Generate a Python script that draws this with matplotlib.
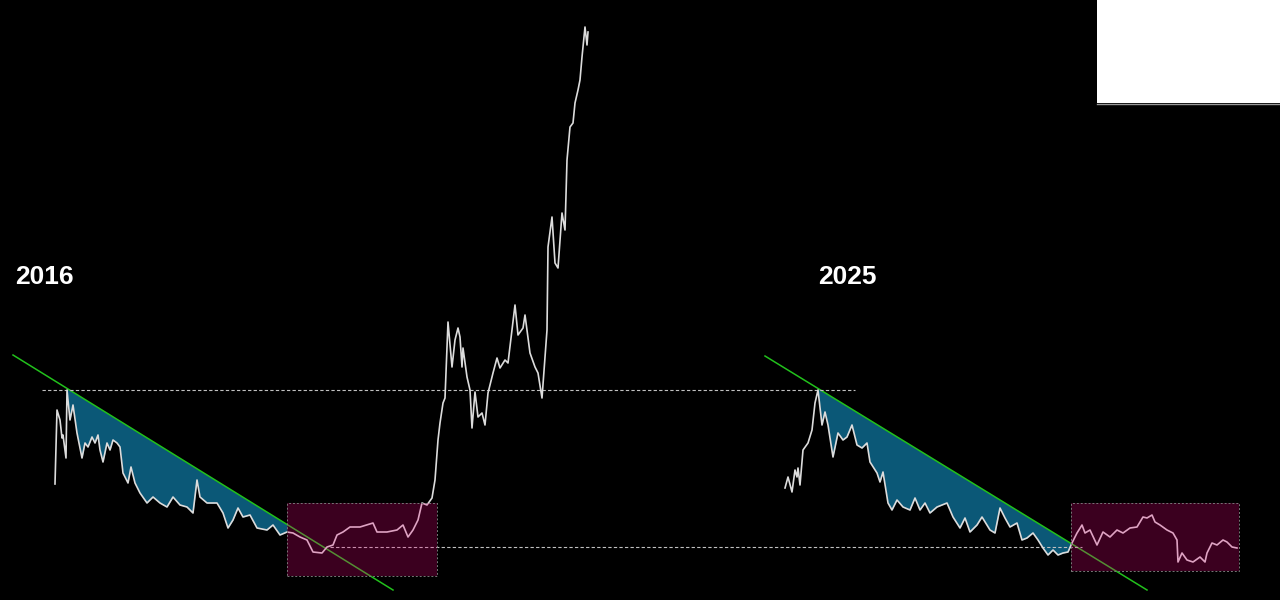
import matplotlib.pyplot as plt
import numpy as np
from matplotlib.patches import Rectangle

# chu ky 2016 (x, muc gia)
x16 = [55, 57, 60, 62, 63, 66, 67, 70, 73, 77, 82, 85, 88, 92, 95, 98, 100, 103, 107, 110,
       113, 117, 120, 123, 128, 131, 135, 140, 147, 153, 160, 167, 173, 180, 187, 193, 197,
       200, 207, 217, 223, 228, 233, 238, 243, 250, 257, 267, 273, 280, 287, 293, 300, 307,
       313, 322, 327, 333, 337, 343, 350, 360, 373, 377, 387, 397, 403, 408, 413, 418, 422,
       427, 432, 435, 438, 440, 443, 445, 448, 452, 455, 458, 460, 462, 463, 467, 470, 472,
       475, 478, 482, 485, 488, 493, 497, 500, 505, 508, 515, 518, 523, 525, 530, 535, 538,
       542, 547, 548, 552, 555, 558, 562, 565, 567, 570, 573, 575, 578, 580, 582, 585, 587, 588]
p16 = [484, 410, 420, 438, 435, 458, 390, 420, 405, 433, 458, 443, 447, 437, 443, 435, 450,
       462, 443, 450, 440, 443, 447, 473, 483, 467, 483, 493, 503, 497, 503, 507, 497, 505,
       507, 513, 480, 497, 503, 503, 513, 528, 520, 508, 517, 515, 528, 530, 525, 535, 532,
       533, 537, 540, 552, 553, 547, 545, 535, 532, 527, 527, 523, 532, 532, 530, 525, 537,
       530, 520, 503, 505, 498, 480, 440, 423, 403, 398, 322, 367, 340, 328, 337, 367, 348,
       377, 390, 428, 392, 417, 413, 425, 393, 373, 358, 368, 360, 363, 305, 335, 328, 315,
       353, 367, 373, 398, 330, 247, 217, 263, 268, 213, 230, 160, 127, 123, 103, 90, 80, 57,
       27, 45, 32]

# chu ky 2025
x25 = [785, 788, 792, 795, 797, 798, 800, 803, 808, 812, 815, 818, 822, 825, 828, 833, 838,
       843, 847, 852, 857, 862, 867, 870, 877, 880, 883, 888, 892, 897, 903, 910, 915, 920,
       925, 930, 937, 947, 953, 960, 965, 970, 977, 982, 990, 995, 1000, 1005, 1010, 1017,
       1022, 1027, 1033, 1038, 1043, 1048, 1053, 1058, 1063, 1068, 1072, 1077, 1082, 1085,
       1090, 1097, 1103, 1110, 1117, 1123, 1130, 1137, 1143, 1147, 1152, 1155, 1160, 1167,
       1173, 1177, 1178, 1182, 1187, 1193, 1200, 1205, 1207, 1212, 1217, 1223, 1227, 1232, 1237]
p25 = [488, 477, 492, 470, 477, 468, 485, 450, 443, 430, 403, 390, 425, 412, 425, 457, 433,
       440, 437, 425, 445, 448, 443, 462, 473, 482, 472, 503, 510, 500, 507, 510, 498, 510,
       503, 513, 507, 503, 517, 528, 518, 532, 525, 517, 530, 533, 508, 518, 527, 523, 540,
       538, 533, 540, 548, 555, 550, 555, 553, 552, 543, 533, 525, 533, 530, 545, 532, 537,
       530, 533, 528, 527, 517, 518, 515, 522, 525, 530, 533, 540, 562, 553, 560, 562, 557,
       562, 553, 543, 545, 540, 542, 547, 548]

# duong xu huong giam (2 diem dau/cuoi)
trend16 = [(13, 355), (393, 590)]
trend25 = [(765, 356), (1147, 590)]
# vung tich luy
box16 = (287, 437, 503, 576)
box25 = (1071, 1239, 503, 571)
# duong ngang
top_level = 390
bottom_level = 547

H = 600
fig = plt.figure(figsize=(12.8, 6), dpi=100, facecolor='black')
ax = fig.add_axes([0, 0, 1, 1])
ax.set_facecolor('black')
ax.set_xlim(0, 1280)
ax.set_ylim(0, H)
ax.axis('off')

def val(a):
    return H - np.asarray(a, dtype=float)

def trend_at(tr, x):
    (x0, y0), (x1, y1) = tr
    return y0 + (np.asarray(x) - x0) * (y1 - y0) / (x1 - x0)

for xs, ps, tr, box in [(x16, p16, trend16, box16), (x25, p25, trend25, box25)]:
    xs = np.array(xs, dtype=float)
    ps = np.array(ps, dtype=float)
    ipk = int(np.argmin(ps))
    if tr is trend16:
        ipk = 6
    xf = np.linspace(xs[ipk], box[0], 400)
    pf = np.interp(xf, xs, ps)
    tf = trend_at(tr, xf)
    ax.fill_between(xf, val(tf), val(pf), where=pf >= tf, interpolate=True,
                    color='#0b5877', lw=0, zorder=1)
    ax.plot([tr[0][0], tr[1][0]], val([tr[0][1], tr[1][1]]), color='#22c11c', lw=1.1, zorder=2)
    ax.plot(xs, val(ps), color='#dcdcdc', lw=1.2, zorder=3)
    ax.add_patch(Rectangle((box[0], val(box[3])), box[1] - box[0], box[3] - box[2],
                           facecolor='#e6007a', alpha=0.26, edgecolor='none', zorder=4))
    ax.add_patch(Rectangle((box[0], val(box[3])), box[1] - box[0], box[3] - box[2],
                           facecolor='none', edgecolor='#777777', lw=0.7, ls=(0, (2, 2)), zorder=5))

ax.plot([42, 855], [val(top_level)] * 2, color='#c0c0c0', lw=0.8, ls=(0, (3, 2)), zorder=2)
ax.plot([330, 1082], [val(bottom_level)] * 2, color='#c0c0c0', lw=0.8, ls=(0, (3, 2)), zorder=2)

ax.text(15, val(277), '2016', color='white', fontsize=19, fontweight='bold', va='center',
        family=['Liberation Sans', 'DejaVu Sans'])
ax.text(818, val(277), '2025', color='white', fontsize=19, fontweight='bold', va='center',
        family=['Liberation Sans', 'DejaVu Sans'])

ax.add_patch(Rectangle((1097, val(103)), 183, 103, facecolor='white', edgecolor='none', zorder=6))
ax.plot([1097, 1280], [val(103.5)] * 2, color='#999999', lw=1, zorder=6)

fig.savefig('out.png', dpi=100, facecolor='black')
